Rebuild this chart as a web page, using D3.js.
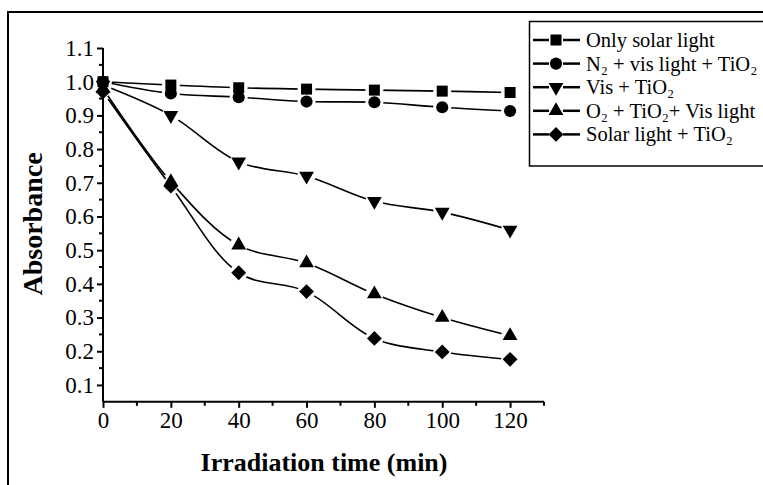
<!DOCTYPE html>
<html>
<head>
<meta charset="utf-8">
<script src="https://cdn.jsdelivr.net/npm/d3@7/dist/d3.min.js"></script>
<style>
  html, body { margin: 0; padding: 0; background: #fff; }
  svg { display: block; }
  text { font-family: "Liberation Serif", "Times New Roman", serif; fill: #000; }
</style>
</head>
<body>
<svg id="chart" width="763" height="485"></svg>
<script>
// Irradiation time (min)
const times = [0, 20, 40, 60, 80, 100, 120];

// Absorbance for each condition
const onlySolar   = [1.00, 0.990, 0.982, 0.978, 0.975, 0.972, 0.968];
const n2VisTiO2   = [1.00, 0.965, 0.954, 0.941, 0.939, 0.924, 0.913];
const visTiO2     = [0.99, 0.900, 0.762, 0.720, 0.645, 0.613, 0.560];
const o2TiO2Vis   = [0.98, 0.703, 0.515, 0.462, 0.370, 0.300, 0.246];
const solarTiO2   = [0.97, 0.690, 0.433, 0.377, 0.238, 0.198, 0.176];

const xTickValues = [0, 20, 40, 60, 80, 100, 120];
const xMinorTicks = [10, 30, 50, 70, 90, 110, 130];
const yTickValues = [0.1, 0.2, 0.3, 0.4, 0.5, 0.6, 0.7, 0.8, 0.9, 1.0, 1.1];
const yMinorTicks = [0.15, 0.25, 0.35, 0.45, 0.55, 0.65, 0.75, 0.85, 0.95, 1.05];

const seriesNames = [
  "Only solar light",
  "N\u2082 + vis light + TiO\u2082",
  "Vis + TiO\u2082",
  "O\u2082 + TiO\u2082+ Vis light",
  "Solar light + TiO\u2082"
];
const seriesValues = [onlySolar, n2VisTiO2, visTiO2, o2TiO2Vis, solarTiO2];
const seriesSymbols = ["square", "circle", "triDown", "triUp", "diamond"];

const svg = d3.select("#chart");

const x = d3.scaleLinear().domain([0, 130]).range([103, 544]);
const y = d3.scaleLinear().domain([0.05, 1.1]).range([401.8, 48]);

// outer frame (top and left rules)
svg.append("line").attr("x1", 8).attr("x2", 763).attr("y1", 12).attr("y2", 12)
  .attr("stroke", "#000").attr("stroke-width", 2);
svg.append("line").attr("x1", 8).attr("x2", 8).attr("y1", 11).attr("y2", 485)
  .attr("stroke", "#000").attr("stroke-width", 2);

// symbol path generators
function symbolPath(kind) {
  switch (kind) {
    case "square":  return d3.symbol(d3.symbolSquare, 121)();
    case "circle":  return d3.symbol(d3.symbolCircle, 115)();
    case "triUp":   return d3.symbol(d3.symbolTriangle, 95)();
    case "triDown": return d3.symbol(d3.symbolTriangle, 95)();
    case "diamond": return d3.symbol(d3.symbolSquare, 110)();
  }
}
function symbolRotate(kind) {
  if (kind === "triDown") return 180;
  if (kind === "diamond") return 45;
  return 0;
}

// axes
const xAxis = d3.axisBottom(x).tickValues(xTickValues).tickSize(6).tickPadding(4)
  .tickFormat(d3.format("d"));
const gx = svg.append("g").attr("transform", `translate(0,${y(0.05)})`).call(xAxis);
gx.select(".domain").attr("d", `M${x(0)},0H${x(130)}`).attr("stroke-width", 2);
gx.selectAll(".tick line").attr("stroke-width", 2);
gx.selectAll(".tick text").attr("font-size", 23);
gx.selectAll(".minor").data(xMinorTicks).enter().append("line")
  .attr("class", "minor")
  .attr("x1", d => x(d)).attr("x2", d => x(d)).attr("y1", 0).attr("y2", 4)
  .attr("stroke", "#000").attr("stroke-width", 2);

const yAxis = d3.axisLeft(y).tickValues(yTickValues).tickSize(6).tickPadding(3)
  .tickFormat(d3.format(".1f"));
const gy = svg.append("g").attr("transform", `translate(${x(0)},0)`).call(yAxis);
gy.select(".domain").attr("d", `M0,${y(0.05)}V${y(1.1)}`).attr("stroke-width", 2);
gy.selectAll(".tick line").attr("stroke-width", 2);
gy.selectAll(".tick text").attr("font-size", 23);
gy.selectAll(".minor").data(yMinorTicks).enter().append("line")
  .attr("class", "minor")
  .attr("x1", 0).attr("x2", -4).attr("y1", d => y(d)).attr("y2", d => y(d))
  .attr("stroke", "#000").attr("stroke-width", 2);

// axis titles
svg.append("text").attr("x", 324).attr("y", 471).attr("text-anchor", "middle")
  .attr("font-size", 26).attr("font-weight", "bold").text("Irradiation time (min)");
svg.append("text").attr("transform", "translate(42,224) rotate(-90)")
  .attr("text-anchor", "middle").attr("font-size", 28).attr("font-weight", "bold")
  .text("Absorbance");

// series: spline lines with gaps around the markers, then markers
const defs = svg.append("defs");
const line = d3.line().x(d => x(d[0])).y(d => y(d[1])).curve(d3.curveCatmullRom.alpha(0.5));

seriesValues.forEach((vals, i) => {
  const pts = times.map((t, j) => [t, vals[j]]);
  const mask = defs.append("mask").attr("id", "gap" + i)
    .attr("maskUnits", "userSpaceOnUse")
    .attr("x", 0).attr("y", 0).attr("width", 763).attr("height", 485);
  mask.append("rect").attr("width", 763).attr("height", 485).attr("fill", "#fff");
  mask.selectAll("circle").data(pts).enter().append("circle")
    .attr("cx", d => x(d[0])).attr("cy", d => y(d[1])).attr("r", 9).attr("fill", "#000");

  svg.append("path").datum(pts)
    .attr("d", line).attr("fill", "none").attr("stroke", "#000")
    .attr("stroke-width", 1.6).attr("mask", `url(#gap${i})`);

  svg.append("g").selectAll("path").data(pts).enter().append("path")
    .attr("d", symbolPath(seriesSymbols[i]))
    .attr("transform", d => `translate(${x(d[0])},${y(d[1])}) rotate(${symbolRotate(seriesSymbols[i])})`)
    .attr("fill", "#000");
});

// legend
const legend = svg.append("g");
legend.append("rect").attr("x", 529.5).attr("y", 21.5).attr("width", 260).attr("height", 144.5)
  .attr("fill", "#fff").attr("stroke", "#000").attr("stroke-width", 1.5);

seriesNames.forEach((name, i) => {
  const cy = 40 + i * 23.6;
  const g = legend.append("g");
  g.append("line").attr("x1", 533).attr("x2", 549).attr("y1", cy).attr("y2", cy)
    .attr("stroke", "#000").attr("stroke-width", 2.5);
  g.append("line").attr("x1", 563).attr("x2", 580).attr("y1", cy).attr("y2", cy)
    .attr("stroke", "#000").attr("stroke-width", 2.5);
  g.append("path").attr("d", symbolPath(seriesSymbols[i]))
    .attr("transform", `translate(556,${cy}) rotate(${symbolRotate(seriesSymbols[i])})`)
    .attr("fill", "#000");
  g.append("text").attr("x", 586).attr("y", cy + 7).attr("font-size", 20.5).text(name);
});
</script>
</body>
</html>
